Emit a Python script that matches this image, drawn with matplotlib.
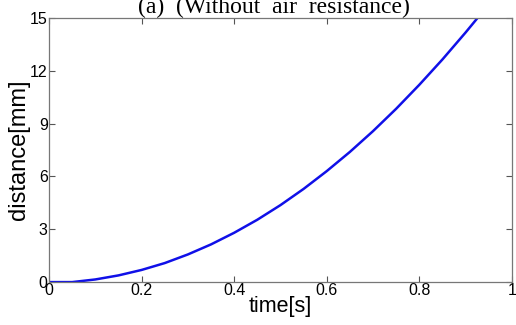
import matplotlib
matplotlib.use("Agg")
import matplotlib.pyplot as plt

time_s = [0.0, 0.05, 0.1, 0.15, 0.2, 0.25, 0.3, 0.35, 0.4, 0.45, 0.5,
          0.55, 0.6, 0.65, 0.7, 0.75, 0.8, 0.85, 0.9, 0.926]
distance_mm = [0.0, 0.0, 0.15, 0.38, 0.69, 1.08, 1.57, 2.14, 2.8, 3.54, 4.37,
               5.29, 6.3, 7.39, 8.57, 9.84, 11.2, 12.64, 14.17, 15.0]
xticks = [0, 0.2, 0.4, 0.6, 0.8, 1]
xticklabels = ["0", "0.2", "0.4", "0.6", "0.8", "1"]
yticks = [0, 3, 6, 9, 12, 15]

fig = plt.figure(figsize=(5.16, 3.25), dpi=100)
ax = fig.add_axes([0.095, 0.132, 0.897, 0.813])
ax.plot(time_s, distance_mm, color="#1010e8", lw=1.8, solid_capstyle="butt")
ax.set_xlim(0, 1)
ax.set_ylim(0, 15)
ax.set_xticks(xticks)
ax.set_xticklabels(xticklabels)
ax.set_yticks(yticks)
ax.tick_params(direction="in", length=4, width=0.8, top=True, right=True,
               labelsize=11.5, colors="#555555", labelcolor="black", pad=1)
for lab in ax.get_xticklabels() + ax.get_yticklabels():
    lab.set_family("Liberation Sans")
for s in ax.spines.values():
    s.set_color("#777777")
    s.set_linewidth(0.9)
ax.set_xlabel("time[s]", family="Liberation Sans", fontsize=15.5, labelpad=-2)
ax.set_ylabel("distance[mm]", family="Liberation Sans", fontsize=17, labelpad=0)
fig.text(0.53, 1 - 13 / 325, "(a)  (Without  air  resistance)", family="Liberation Serif",
         fontsize=17, ha="center", va="baseline")
fig.savefig("out.png", dpi=100)
